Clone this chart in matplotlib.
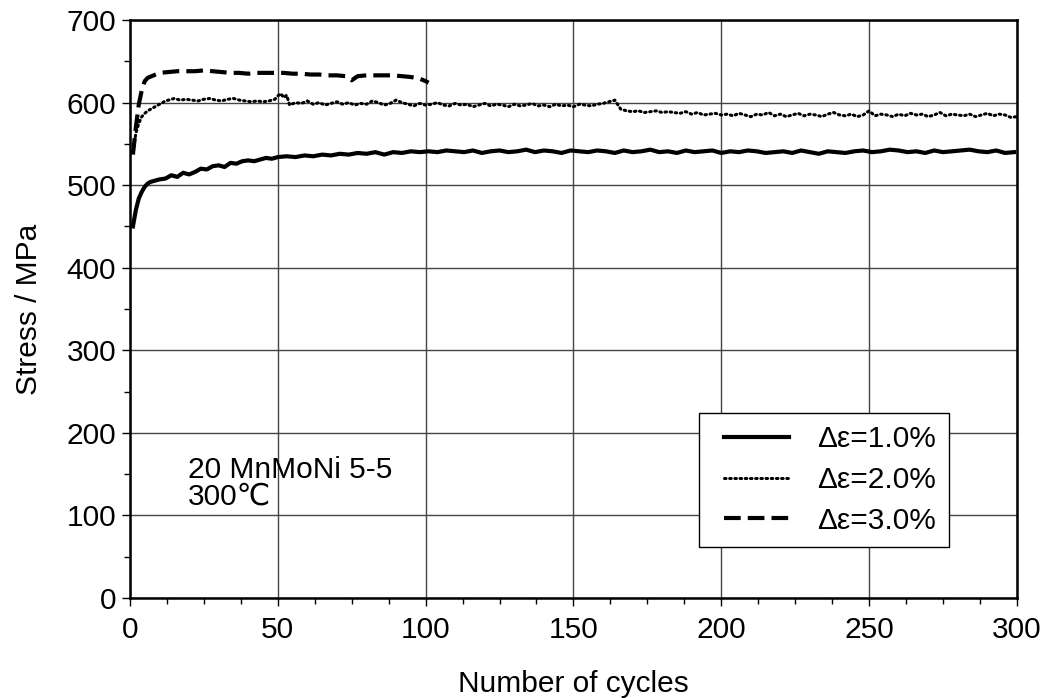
import matplotlib
matplotlib.use("Agg")
import matplotlib.pyplot as plt
from matplotlib.ticker import MultipleLocator
from matplotlib.legend_handler import HandlerLine2D
from matplotlib.lines import Line2D

plt.rcParams['font.family'] = ['Liberation Sans', 'DejaVu Sans']

# ---- data: strain amplitude 1.0 % ----
n1_head = [1, 2, 3, 4, 5, 6, 7, 8, 10, 12, 14, 16, 18, 20, 22, 24, 26, 28, 30,
           32, 34, 36, 38, 40, 42, 44, 46, 48, 50]
s1_head = [450, 470, 484, 492, 498, 502, 504, 505, 507, 508, 512, 510, 515, 513,
           516, 520, 519, 523, 524, 522, 527, 526, 529, 530, 529, 531, 533, 532, 534]
n1_tail = list(range(53, 300, 3))
s1_tail = [535, 534, 536, 535, 537, 536, 538, 537, 539, 538, 540, 537, 540, 539, 541, 540,
           541, 540, 542, 541, 540, 542, 539, 541, 542, 540, 541, 543, 540, 542, 541, 539, 542, 541, 540, 542,
           541, 539, 542, 540, 541, 543, 540, 541, 539, 542, 540, 541, 542, 539, 541, 540, 542, 541, 539, 540,
           541, 539, 542, 540, 538, 541, 540, 539, 541, 542, 540, 541, 543, 542, 540, 541, 539, 542, 540, 541,
           542, 543, 541, 540, 542, 539, 540]
cycles_1 = n1_head + n1_tail
stress_1 = s1_head + s1_tail

# ---- data: strain amplitude 2.0 % ----
n2_head = [1, 2, 3, 4, 5, 6, 7, 8, 9, 10, 11, 12, 13, 14, 15, 17, 19, 21, 23, 25, 27, 29,
           31, 33, 35, 37, 39, 41, 43, 45, 47, 49, 50, 51, 52, 53, 54]
s2_head = [540, 563, 575, 583, 587, 590, 592, 594, 596, 598, 600, 602, 603, 604, 605, 603,
           604, 603, 602, 604, 605, 603, 602, 604, 605, 603, 602, 601, 602, 601, 602, 604,
           608, 611, 606, 609, 597]
n2_tail = list(range(56, 301, 2))
s2_tail = [600, 599, 602, 598, 600, 597, 599, 601, 598, 600, 597, 599, 598, 602, 600, 597,
           599, 603, 600, 598, 596, 599, 597,
           598, 600, 597, 596, 599, 597, 598, 595, 597, 599, 596, 598, 597, 595, 598, 596,
           597, 599, 596, 597, 595, 598, 596, 597, 595, 598, 597, 596, 598, 599,
           601, 603, 592,
           590, 589, 590, 588, 589, 590, 588, 589, 588, 587, 589, 586, 588, 585, 586, 587, 585,
           586, 584, 587, 585, 583, 586, 585, 588, 584, 586, 583, 585, 587, 584, 586, 585, 583,
           586, 588, 585,
           584, 586, 583, 585, 590, 584, 586, 585, 583, 586, 584, 587, 585, 586, 583, 585, 588,
           584, 586, 585,
           584, 586, 583, 585, 587, 584, 586, 585, 582, 583]
cycles_2 = n2_head + n2_tail
stress_2 = s2_head + s2_tail

# ---- data: strain amplitude 3.0 % ----
cycles_3 = [1, 2, 3, 4, 5, 6, 8, 10, 13, 16, 19, 22, 25, 28, 31, 34, 37, 40, 43, 46,
            49, 52, 55, 58, 61, 64, 67, 70, 73, 75, 77, 80, 83, 86, 89, 92, 95, 98, 100, 101]
stress_3 = [537, 570, 598, 615, 626, 630, 633, 636, 637, 638, 638, 638, 639, 638, 637,
            636, 636, 635, 636, 636, 636, 636, 635, 635, 634, 634, 633, 633, 632, 627,
            632, 633, 633, 633, 633, 632, 631, 629, 626, 624]

labels = ['Δε=1.0%', 'Δε=2.0%', 'Δε=3.0%']

FS = 21.5

fig = plt.figure(figsize=(10.43, 6.98), dpi=100)
ax = fig.add_axes([0.1246, 0.1433, 0.8504, 0.8280])

ax.plot(cycles_1, stress_1, color='black', lw=3.0, ls='-', label=labels[0],
        solid_joinstyle='round')
ax.plot(cycles_2, stress_2, color='black', lw=2.2, ls=(0, (0.5, 1.2)),
        dash_capstyle='round', label=labels[1])
ax.plot(cycles_3, stress_3, color='black', lw=3.0, ls=(0, (4, 1.7)), label=labels[2])

ax.set_xlim(0, 300)
ax.set_ylim(0, 700)
ax.xaxis.set_major_locator(MultipleLocator(50))
ax.xaxis.set_minor_locator(MultipleLocator(12.5))
ax.yaxis.set_major_locator(MultipleLocator(100))
ax.yaxis.set_minor_locator(MultipleLocator(50))
ax.grid(True, which='major', color='#444444', lw=1.0)
ax.set_axisbelow(True)
ax.tick_params(which='major', direction='out', length=6, width=1.0, labelsize=FS)
ax.tick_params(axis='x', which='major', pad=7)
ax.tick_params(axis='y', which='major', pad=4)
ax.tick_params(which='minor', direction='out', length=4, width=1.0)
for s in ax.spines.values():
    s.set_linewidth(1.8)

ax.set_xlabel('Number of cycles', fontsize=FS, labelpad=19)
ax.set_ylabel('Stress / MPa', fontsize=FS, labelpad=17)

ax.text(19.6, 113, '20 MnMoNi 5-5\n300℃', fontsize=FS, linespacing=0.92,
        va='baseline', ha='left')

leg = ax.legend(loc='lower right', bbox_to_anchor=(0.923, 0.088), borderaxespad=0,
                fancybox=False, edgecolor='black', framealpha=1, fontsize=FS,
                handlelength=2.6, handletextpad=0.94, labelspacing=0.42,
                borderpad=0.42,
                handler_map={Line2D: HandlerLine2D(xpad=0.42)})
leg.get_frame().set_linewidth(1.0)

fig.savefig('out.png', dpi=100)
